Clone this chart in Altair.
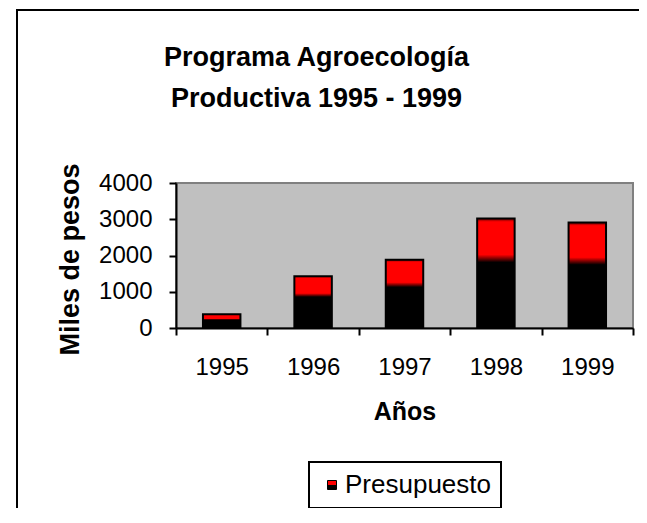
import altair as alt
import pandas as pd

# ---- data ----
years = ["1995", "1996", "1997", "1998", "1999"]
presupuesto = [380, 1430, 1880, 3020, 2910]
serie = ["Presupuesto"] * len(years)
y_ticks = [0, 1000, 2000, 3000, 4000]

df = pd.DataFrame({"anio": years, "valor": presupuesto, "serie": serie})

FONT = "Liberation Sans"
W, H = 457, 145

bar_grad = alt.LinearGradient(
    gradient="linear", x1=0, x2=0, y1=0, y2=1,
    stops=[
        alt.GradientStop(offset=0, color="#600000"),
        alt.GradientStop(offset=0.03, color="#ff0000"),
        alt.GradientStop(offset=0.33, color="#ff0000"),
        alt.GradientStop(offset=0.40, color="#000000"),
        alt.GradientStop(offset=1, color="#000000"),
    ],
)

# square outline (filled red) + horizontal strokes that blacken its lower half
swatch_path = "M-1,-1H1V1H-1ZM-1,0.11H1M-1,0.33H1M-1,0.56H1M-1,0.78H1"

x_enc = alt.X(
    "anio:N", title="Años", sort=years,
    scale=alt.Scale(paddingInner=0, paddingOuter=0),
    axis=alt.Axis(labelAngle=0, tickBand="extent", tickSize=7,
                  labelFontSize=24, labelPadding=20,
                  titleFontSize=25, titleFontWeight="bold", titlePadding=20),
)
y_enc = alt.Y(
    "valor:Q", title="Miles de pesos",
    scale=alt.Scale(domain=[0, 4000], nice=False),
    axis=alt.Axis(values=y_ticks, grid=False, format="d", tickSize=7,
                  labelFontSize=24, labelPadding=17, labelOverlap=False,
                  titleFontSize=27, titleFontWeight="bold", titlePadding=14,
                  titleY=76),
)

one_row = alt.Data(values=[{}])
frame_top = alt.Chart(one_row).mark_rule(color="black", strokeWidth=2).encode(
    x=alt.value(-159), x2=alt.value(W + 30), y=alt.value(-173)
)
frame_left = alt.Chart(one_row).mark_rule(color="black", strokeWidth=2).encode(
    x=alt.value(-159), y=alt.value(-174), y2=alt.value(600)
)

bars = alt.Chart(df).mark_bar(
    fill=bar_grad, stroke="black", strokeWidth=2, width=alt.RelativeBandSize(0.41)
).encode(x=x_enc, y=y_enc)

legend_layer = alt.Chart(df).mark_point(filled=True, opacity=0).encode(
    x=x_enc,
    y=y_enc,
    color=alt.Color(
        "serie:N", scale=alt.Scale(range=["#ff0000"]),
        legend=alt.Legend(
            title=None, orient="none", legendX=133, legendY=279,
            symbolType=swatch_path, symbolSize=81, symbolOpacity=1,
            symbolStrokeColor="black", symbolStrokeWidth=1,
            labelFontSize=26, labelFont=FONT, labelColor="black", labelOffset=0,
            padding=10, fillColor="white", strokeColor="black",
        ),
    ),
)

chart = alt.layer(frame_top, frame_left, bars, legend_layer).properties(
    width=W, height=H,
    title=alt.Title(
        text=["Programa Agroecología", "Productiva 1995 - 1999"],
        fontSize=27, font=FONT, fontWeight="bold", color="black",
        anchor="middle", frame="group", baseline="top",
        dx=-88, offset=-105, lineHeight=41,
    ),
    autosize=alt.AutoSizeParams(type="none"),
    padding={"left": 168, "top": 175, "right": 6, "bottom": 180},
    background="white",
).configure_view(
    fill="#c0c0c0", stroke="#808080", strokeWidth=2
).configure_axis(
    domainColor="black", domainWidth=2, tickColor="black", tickWidth=2,
    labelColor="black", titleColor="black", labelFont=FONT, titleFont=FONT,
).configure_legend(
    strokeWidth=2
)

chart.save("out.html", embed_options={"renderer": "svg", "actions": False})
